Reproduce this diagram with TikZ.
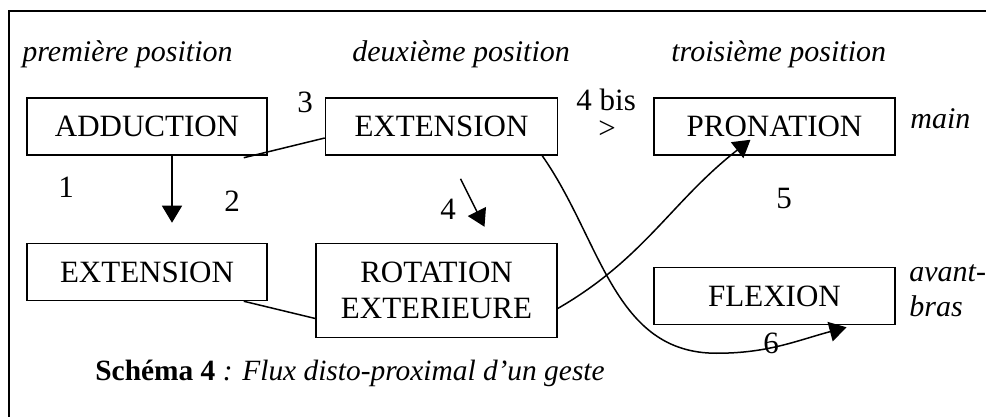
\documentclass[tikz,border=0pt]{standalone}
\usepackage{fontspec}
\setmainfont{Liberation Serif}
\usetikzlibrary{arrows.meta, positioning}

\begin{document}
\begin{tikzpicture}[x=0.5pt, y=0.5pt, font=\fontsize{15.5}{18.3}\selectfont]
\tikzstyle{etape}=[rectangle, draw, line width=0.75pt, minimum height=28.5pt, inner sep=2pt, align=center]
\tikzstyle{lien}=[line width=0.75pt]
\tikzstyle{arrow}=[-{Triangle[length=8.5pt, width=10pt]}, line width=0.75pt]
\tikzstyle{titre}=[anchor=base west, inner sep=0pt, font=\fontsize{15}{18}\selectfont\itshape]
\tikzstyle{num}=[anchor=base west, inner sep=0pt]

\useasboundingbox (0,0) rectangle (986,-417);
\draw[line width=1pt] (9,-417) -- (9,-11) -- (986,-11);

\node[etape, minimum width=120pt] (adduction) at (147,-126.5) {ADDUCTION};
\node[etape, minimum width=116pt, right=28.5pt of adduction] (extHaut) {EXTENSION};
\node[etape, minimum width=120.5pt, right=47.5pt of extHaut] (pronation) {PRONATION};
\node[etape, minimum width=120pt, below=43.5pt of adduction] (extBas) {EXTENSION};
\node[etape, minimum width=120.5pt, minimum height=47pt, below=43.5pt of extHaut, xshift=-2.5pt] (rotation) {ROTATION\\ EXTERIEURE};
\node[etape, minimum width=120.5pt, below=55.5pt of pronation] (flexion) {FLEXION};

\node[titre] (pos1) at (22,-61.5) {première position};
\node[titre] (pos2) at (352,-61.5) {deuxième position};
\node[titre] (pos3) at (671,-61.5) {troisième position};
\node[titre] (main) at (910,-128.5) {main};
\node[titre] (avant) at (909,-281.5) {avant-};
\node[titre] (bras) at (909,-316.5) {bras};

\node[num] (n1) at (58,-198) {1};
\node[num] (n2) at (224,-212) {2};
\node[num] (n3) at (297,-112.5) {3};
\node[num] (n4bis) at (576,-110.7) {4 bis};
\node[num] (sup) at (598,-139) {>};
\node[num] (n4) at (440,-220) {4};
\node[num] (n5) at (776,-208) {5};
\node[num] (n6) at (763,-353) {6};
\node[num, font=\fontsize{14.7}{17}\selectfont] (legende) at (95,-380) {\textbf{Schéma 4} \textit{: Flux disto-proximal d’un geste}};

\draw[arrow] ([xshift=12.5pt]adduction.south) -- ([xshift=12.5pt, yshift=10pt]extBas.north);
\draw[lien] ([xshift=-12pt, yshift=-1pt]adduction.south east) -- ([yshift=-5.75pt]extHaut.west);
\draw[lien] ([xshift=-12pt]extBas.south east) -- ([yshift=-14pt]rotation.west);
\draw[arrow] ([xshift=9.5pt, yshift=-11.5pt]extHaut.south) -- ([xshift=24pt, yshift=8pt]rotation.north);
\draw[arrow] ([yshift=-9pt]rotation.east) to[out=30, in=-142] ([xshift=-12pt, yshift=8pt]pronation.south);
\coordinate (creux) at ([xshift=-29pt, yshift=-14pt]flexion.south);
\draw[arrow] ([xshift=-8pt]extHaut.south east) to[out=-55, in=180] (creux) to[out=0, in=195] ([xshift=36pt, yshift=-1pt]flexion.south);

\end{tikzpicture}
\end{document}
